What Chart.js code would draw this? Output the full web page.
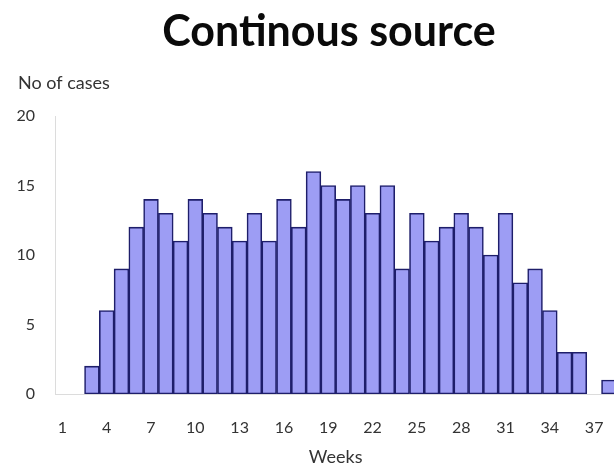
<!DOCTYPE html>
<html>
<head>
<meta charset="utf-8">
<script src="https://cdn.jsdelivr.net/npm/chart.js@4/dist/chart.umd.min.js"></script>
<style>
  html, body { margin: 0; padding: 0; background: #ffffff; overflow: hidden; }
  #wrap { width: 656px; height: 468px; }
</style>
</head>
<body>
<div id="wrap"><canvas id="chart" width="656" height="468"></canvas></div>
<script>
// Epidemic curve: weekly case counts from a continuous common source
const weeks = ['1','2','3','4','5','6','7','8','9','10','11','12','13','14','15','16','17','18','19',
               '20','21','22','23','24','25','26','27','28','29','30','31','32','33','34','35','36','37','38'];
const cases = [0, 0, 2, 6, 9, 12, 14, 13, 11, 14, 13, 12, 11, 13, 11, 14, 12, 16, 15,
               14, 15, 13, 15, 9, 13, 11, 12, 13, 12, 10, 13, 8, 9, 6, 3, 3, 0, 1];
const weekTicks = ['1','4','7','10','13','16','19','22','25','28','31','34','37'];
const caseTicks = [0, 5, 10, 15, 20];

const titleText = 'Continous source';
const yCaption = 'No of cases';
const xCaption = 'Weeks';

// Headline and the horizontal y-axis caption
const captions = {
  id: 'captions',
  afterDraw(chart) {
    const ctx = chart.ctx;
    ctx.save();
    ctx.fillStyle = '#0a0a0a';
    ctx.font = 'bold 43px Lato';
    ctx.textAlign = 'center';
    ctx.textBaseline = 'alphabetic';
    ctx.fillText(titleText, 329, 46);
    ctx.fillStyle = '#333333';
    ctx.font = '18px Lato';
    ctx.textAlign = 'left';
    ctx.textBaseline = 'middle';
    ctx.fillText(yCaption, 18, 83);
    ctx.restore();
  }
};

new Chart(document.getElementById('chart'), {
  type: 'bar',
  data: {
    labels: weeks,
    datasets: [{
      data: cases,
      backgroundColor: '#9d9df4',
      borderColor: '#1e1e6a',
      borderWidth: 1.6,
      barPercentage: 1.0,
      categoryPercentage: 1.0,
      borderSkipped: false
    }]
  },
  options: {
    responsive: false,
    animation: false,
    events: [],
    layout: { padding: { top: 116, right: 39.7, bottom: 0, left: 0 } },
    plugins: {
      legend: { display: false },
      title: { display: false },
      tooltip: { enabled: false }
    },
    scales: {
      x: {
        grid: { display: false, drawTicks: false },
        border: { display: true, color: '#dcdcdc', width: 1 },
        ticks: {
          autoSkip: false,
          maxRotation: 0,
          minRotation: 0,
          padding: 24,
          color: '#333333',
          font: { family: 'Lato', size: 16 },
          callback(value, index) {
            const label = weeks[index];
            return weekTicks.includes(label) ? label : '';
          }
        },
        title: {
          display: true,
          text: xCaption,
          color: '#333333',
          font: { family: 'Lato', size: 18 },
          padding: { top: 0, bottom: 0 }
        },
        afterFit(scale) { scale.height = 74; }
      },
      y: {
        min: 0,
        max: 20,
        afterBuildTicks(scale) { scale.ticks = caseTicks.map(v => ({ value: v })); },
        grid: { display: false, drawTicks: false },
        border: { display: true, color: '#dcdcdc', width: 1 },
        ticks: {
          padding: 20,
          color: '#333333',
          font: { family: 'Lato', size: 16 }
        },
        afterFit(scale) { scale.width = 55; }
      }
    }
  },
  plugins: [captions]
});
</script>
</body>
</html>
